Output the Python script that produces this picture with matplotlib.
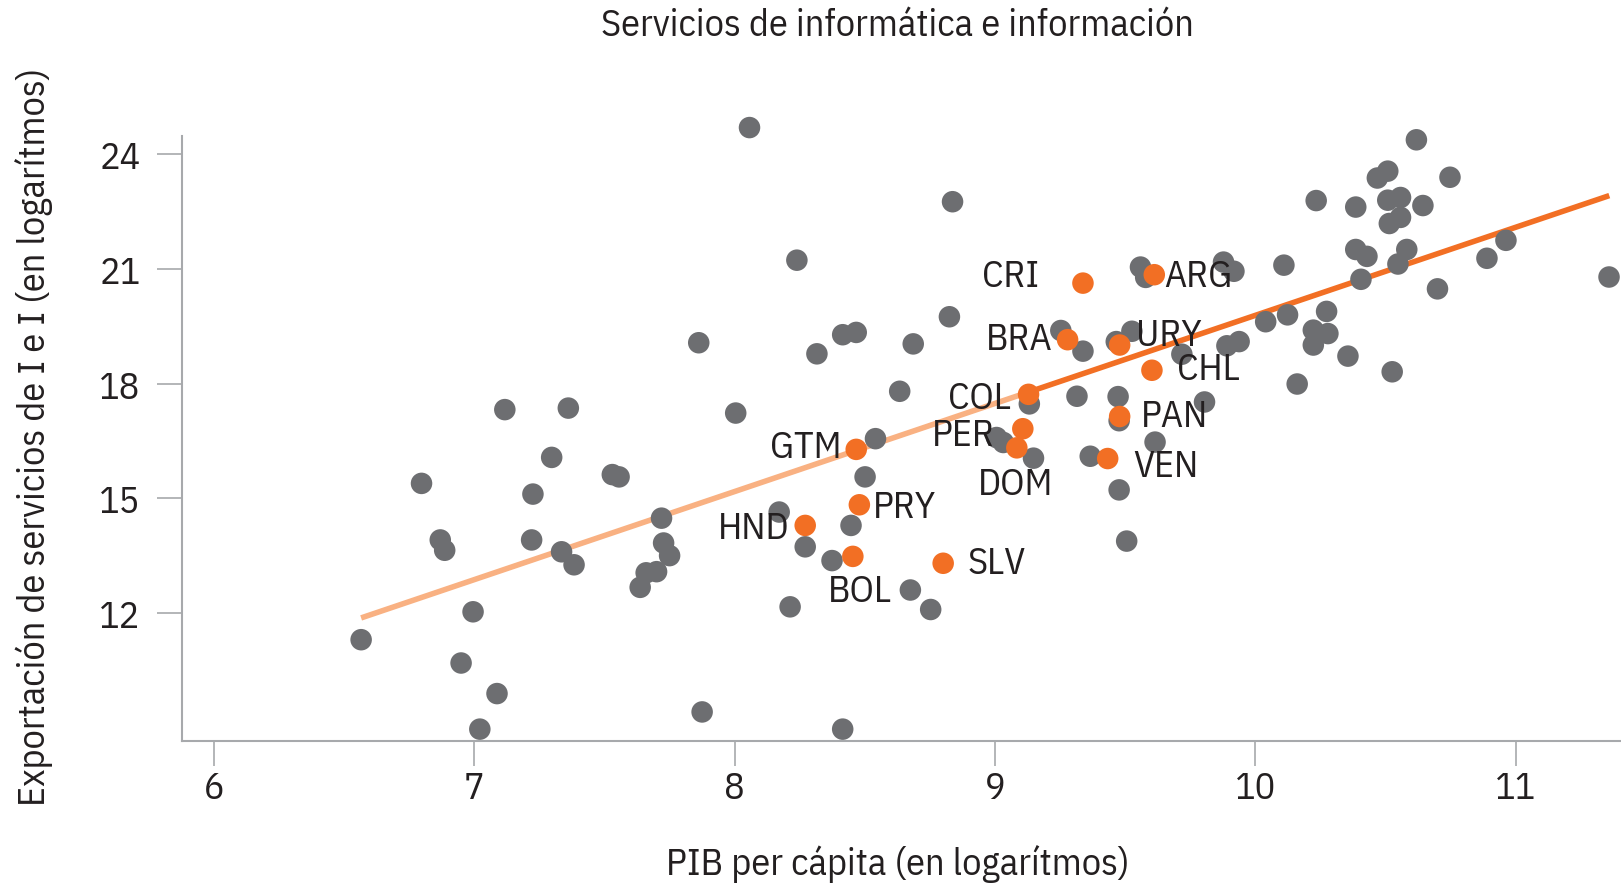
import matplotlib
matplotlib.use("Agg")
import matplotlib.pyplot as plt

plt.rcParams["font.family"] = ["IBM Plex Sans Condensed", "DejaVu Sans"]

# gray points: PIB per cápita (log) vs exportación (log)
gdp_other = [
    7.117, 7.361, 7.297, 6.797, 7.225, 7.530, 7.556, 6.869, 6.886, 7.220,
    7.719, 7.335, 7.383, 7.727, 7.750, 7.660, 7.700, 7.637, 6.565, 6.995,
    6.949, 7.087, 7.021,
    8.057, 8.837, 8.239, 8.825, 7.862, 8.415, 8.467, 8.316, 8.686, 9.253,
    9.338, 8.634, 9.315, 9.132, 8.004, 8.541, 9.006, 9.032, 9.148, 9.366,
    8.501, 8.171, 8.447, 8.271, 8.374, 8.675, 8.753, 8.213, 7.875, 8.415,
    9.559, 9.579, 9.878, 9.918, 10.110, 9.466, 9.526, 9.718, 9.891, 9.938,
    10.040, 10.124, 10.274, 10.223, 10.279, 10.223, 10.356, 10.161, 10.526,
    9.473, 9.477, 9.805, 9.615, 9.477, 9.506,
    10.619, 10.469, 10.509, 10.748, 10.234, 10.386, 10.509, 10.558, 10.644,
    10.558, 10.515, 10.386, 10.429, 10.582, 10.548, 10.406, 10.890, 10.963,
    10.700, 11.359,
]
exp_other = [
    17.32, 17.36, 16.07, 15.39, 15.11, 15.62, 15.56, 13.91, 13.64, 13.91,
    14.48, 13.60, 13.26, 13.83, 13.50, 13.05, 13.08, 12.67, 11.30, 12.03,
    10.69, 9.89, 8.96,
    24.70, 22.76, 21.23, 19.75, 19.07, 19.28, 19.34, 18.78, 19.04, 19.39,
    18.85, 17.80, 17.67, 17.47, 17.23, 16.56, 16.59, 16.46, 16.05, 16.10,
    15.56, 14.64, 14.29, 13.73, 13.37, 12.60, 12.09, 12.16, 9.41, 8.96,
    21.05, 20.78, 21.18, 20.94, 21.10, 19.10, 19.37, 18.77, 18.99, 19.10,
    19.62, 19.80, 19.89, 19.40, 19.31, 19.01, 18.72, 17.99, 18.31,
    17.66, 17.03, 17.52, 16.47, 15.22, 13.88,
    24.38, 23.38, 23.56, 23.40, 22.79, 22.62, 22.80, 22.87, 22.66,
    22.35, 22.19, 21.51, 21.33, 21.51, 21.13, 20.73, 21.28, 21.75,
    20.48, 20.79,
]

# highlighted Latin American countries
countries = ["CRI", "ARG", "BRA", "URY", "CHL", "COL", "PER", "PAN",
             "GTM", "DOM", "VEN", "PRY", "HND", "BOL", "SLV"]
gdp_hl = [9.338, 9.612, 9.279, 9.479, 9.603, 9.129, 9.107, 9.479,
          8.467, 9.084, 9.433, 8.479, 8.271, 8.454, 8.801]
exp_hl = [20.63, 20.85, 19.15, 19.01, 18.35, 17.72, 16.82, 17.14,
          16.28, 16.32, 16.04, 14.83, 14.29, 13.48, 13.30]
# label anchor (x, y, horizontal alignment)
lab_x = [9.17, 9.65, 9.22, 9.54, 9.70, 9.06, 9.00, 9.56,
         8.41, 9.08, 9.53, 8.53, 8.21, 8.48, 8.895]
lab_y = [20.81, 20.81, 19.16, 19.27, 18.38, 17.62, 16.65, 17.16,
         16.35, 15.38, 15.84, 14.78, 14.22, 12.57, 13.30]
lab_ha = ["right", "left", "right", "left", "left", "right", "right", "left",
          "right", "center", "left", "left", "right", "center", "left"]

# fitted line
fit_x = [6.565, 11.36]
fit_y = [11.87, 22.92]
fit_split = 9.10

GRAY = "#6d6e71"
ORANGE = "#f26f24"
LIGHT = "#f9b182"
TXT = "#231f20"
SPINE = "#a7a9ac"
FS = 27.5

fig = plt.figure(figsize=(16.21, 8.87), dpi=100)
ax = fig.add_axes([0.1123, 0.1635, 0.8877, 0.6825])

slope = (fit_y[1] - fit_y[0]) / (fit_x[1] - fit_x[0])
y_split = fit_y[0] + slope * (fit_split - fit_x[0])
ax.plot([fit_x[0], fit_split], [fit_y[0], y_split], color=LIGHT, lw=4,
        solid_capstyle="butt", zorder=2)
ax.plot([fit_split, fit_x[1]], [y_split, fit_y[1]], color=ORANGE, lw=4,
        solid_capstyle="butt", zorder=2)

ax.scatter(gdp_other, exp_other, s=240, color=GRAY, edgecolors="none",
           zorder=3, clip_on=False)
ax.scatter(gdp_hl, exp_hl, s=240, color=ORANGE, edgecolors="none",
           zorder=4, clip_on=False)

for name, lx, ly, ha in zip(countries, lab_x, lab_y, lab_ha):
    ax.text(lx, ly, name, ha=ha, va="center", fontsize=FS, color=TXT,
            zorder=5)

ax.set_xlim(5.877, 11.405)
ax.set_ylim(8.65, 24.49)
ax.set_xticks([6, 7, 8, 9, 10, 11])
ax.set_yticks([12, 15, 18, 21, 24])
ax.tick_params(axis="both", colors=SPINE, labelcolor=TXT, labelsize=FS,
               width=1.2, length=18)
ax.tick_params(axis="x", pad=3)
ax.tick_params(axis="y", pad=12)

for s in ("top", "right"):
    ax.spines[s].set_visible(False)
for s in ("left", "bottom"):
    ax.spines[s].set_color(SPINE)
    ax.spines[s].set_linewidth(1.5)

fig.text(0.5537, 0.971, "Servicios de informática e información",
         ha="center", va="center", fontsize=FS, color=TXT)
fig.text(0.5537, 0.026, "PIB per cápita (en logarítmos)",
         ha="center", va="center", fontsize=FS, color=TXT)
fig.text(0.021, 0.508, "Exportación de servicios de I e I (en logarítmos)",
         ha="center", va="center", rotation=90, fontsize=FS, color=TXT)

fig.savefig("out.png", dpi=100)
